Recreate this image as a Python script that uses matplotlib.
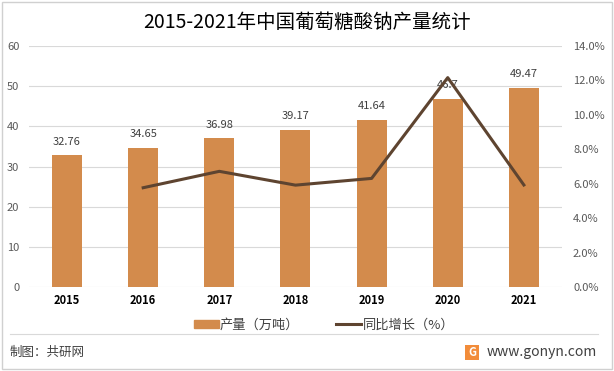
import matplotlib
matplotlib.use("Agg")
import matplotlib.pyplot as plt
from matplotlib.patches import Rectangle
from matplotlib.lines import Line2D
from matplotlib.ticker import FuncFormatter

plt.rcParams['font.family'] = ['Noto Sans CJK SC', 'DejaVu Sans']

years = ["2015", "2016", "2017", "2018", "2019", "2020", "2021"]
output = [32.76, 34.65, 36.98, 39.17, 41.64, 46.7, 49.47]
growth_years = ["2016", "2017", "2018", "2019", "2020", "2021"]
growth = [5.77, 6.72, 5.92, 6.31, 12.15, 5.93]

BAR = "#D38B4C"
LINE = "#5E4430"
GRID = "#D9D9D9"
TXT = "#595959"

fig = plt.figure(figsize=(6.14, 3.71), dpi=100)
ax = fig.add_axes([0.0472, 0.2256, 0.868, 0.6512])
ax2 = ax.twinx()

x = list(range(len(years)))
ax.bar(x, output, width=0.395, color=BAR, zorder=2)
for xi, v in zip(x, output):
    ax.text(xi, v + 2.2, f"{v:g}", ha="center", va="bottom", fontsize=8, color="#404040", zorder=1)

gx = [years.index(y) for y in growth_years]
ax2.plot(gx, growth, color=LINE, lw=2.2, zorder=3)

ax.set_xlim(-0.5, 6.5)
ax.set_ylim(0, 60)
ax.set_yticks(range(0, 61, 10))
ax2.set_ylim(0, 14)
ax2.set_yticks(range(0, 15, 2))
ax2.yaxis.set_major_formatter(FuncFormatter(lambda v, p: f"{v:.1f}%"))
ax.set_xticks(x)
ax.set_xticklabels(years, fontsize=8, fontweight="semibold", color="black")
ax.yaxis.grid(True, color=GRID, lw=0.8, zorder=0)
ax.set_axisbelow(True)

for a in (ax, ax2):
    for s in a.spines.values():
        s.set_visible(False)
    a.tick_params(length=0, labelsize=8, labelcolor=TXT)
ax.tick_params(axis="y", pad=7)
ax.tick_params(axis="x", pad=5, labelcolor="black")
ax2.tick_params(axis="y", pad=8)
ax.set_zorder(ax2.get_zorder() - 1)
ax.patch.set_visible(False)
ax2.patch.set_visible(False)

fig.text(0.5, 1 - 22 / 371, "2015-2021年中国葡萄糖酸钠产量统计", ha="center", va="center",
         fontsize=14, color="black")

handles = [Rectangle((0, 0), 1, 1, color=BAR), Line2D([0], [0], color=LINE, lw=2.2)]
fig.legend(handles, ["产量（万吨）", "同比增长（%）"], loc="center",
           bbox_to_anchor=(324 / 614, 1 - 325 / 371), ncol=2, frameon=False,
           fontsize=9.5, handlelength=1.9, handleheight=0.6, columnspacing=2.8,
           handletextpad=0.1, labelcolor="#404040")

fig.add_artist(Line2D([10 / 614, 598 / 614], [1 - 334 / 371] * 2, color=GRID, lw=0.8))
fig.add_artist(Rectangle((2 / 614, 2 / 371), 610 / 614, 367 / 371, fill=False,
                         edgecolor="#D0D0D0", lw=1))

fig.text(10 / 614, 1 - 352 / 371, "制图：共研网", ha="left", va="center", fontsize=9,
         color="#404040")
fig.add_artist(Rectangle((465 / 614, 1 - 360 / 371), 14 / 614, 15 / 371,
                         color="#F28C3A", lw=0))
fig.text(472 / 614, 1 - 352.5 / 371, "G", ha="center", va="center", fontsize=8,
         color="white", fontweight="bold")
fig.text(597 / 614, 1 - 352 / 371, "www.gonyn.com", ha="right", va="center", fontsize=10,
         color="#404040")

fig.savefig("out.png", dpi=100)
